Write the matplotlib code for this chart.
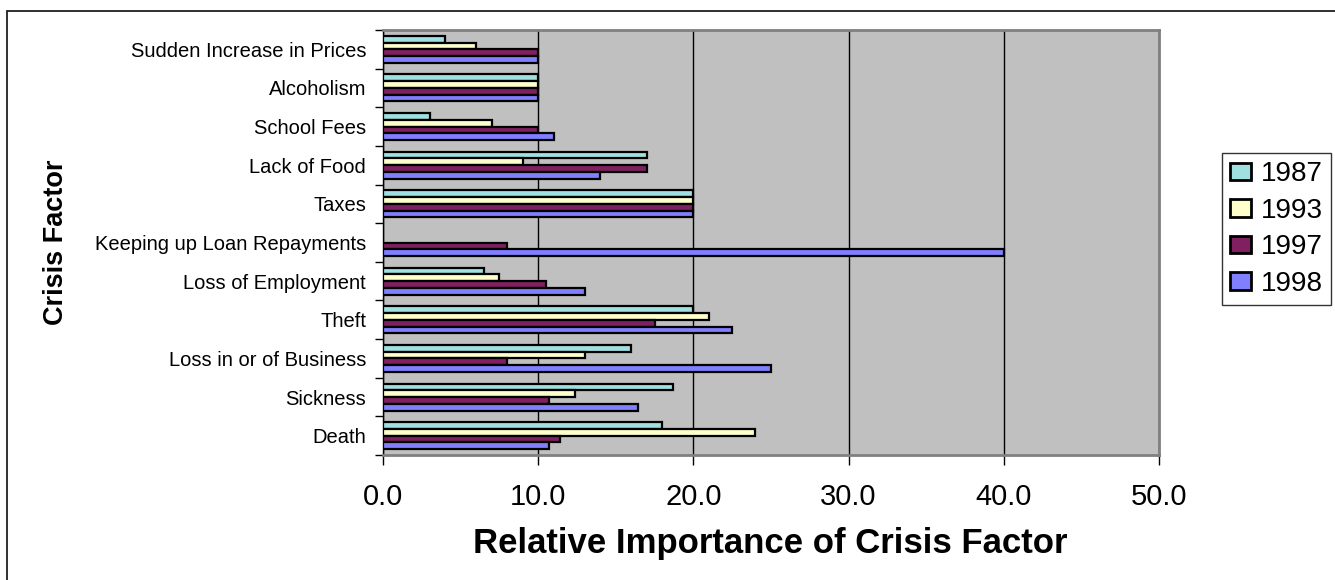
import numpy as np
import matplotlib
matplotlib.use("Agg")
import matplotlib.pyplot as plt
from matplotlib import font_manager
from matplotlib.patches import Patch, Rectangle

# crisis factors, listed bottom to top as they appear on the axis
factors = [
    "Death",
    "Sickness",
    "Loss in or of Business",
    "Theft",
    "Loss of Employment",
    "Keeping up Loan Repayments",
    "Taxes",
    "Lack of Food",
    "School Fees",
    "Alcoholism",
    "Sudden Increase in Prices",
]
years = ["1987", "1993", "1997", "1998"]

vals_1987 = [18.0, 18.7, 16.0, 20.0, 6.5, 0.0, 20.0, 17.0, 3.0, 10.0, 4.0]
vals_1993 = [24.0, 12.4, 13.0, 21.0, 7.5, 0.0, 20.0, 9.0, 7.0, 10.0, 6.0]
vals_1997 = [11.4, 10.7, 8.0, 17.5, 10.5, 8.0, 20.0, 17.0, 10.0, 10.0, 10.0]
vals_1998 = [10.7, 16.4, 25.0, 22.5, 13.0, 40.0, 20.0, 14.0, 11.0, 10.0, 10.0]

x_ticks = [0, 10, 20, 30, 40, 50]

series = [vals_1987, vals_1993, vals_1997, vals_1998]
colors = ["#A0E0E0", "#FFFFCC", "#802060", "#8080FF"]

installed = {f.name for f in font_manager.fontManager.ttflist}
have_narrow = "Liberation Sans Narrow" in installed
title_family = "Liberation Sans Narrow" if have_narrow else "Liberation Sans"
xlab_size = 30 if have_narrow else 25
ylab_size = 23 if have_narrow else 19.5

plt.rcParams["font.family"] = ["Liberation Sans", "DejaVu Sans"]

W, H = 1335, 580
fig = plt.figure(figsize=(W / 100, H / 100), dpi=100)
fig.patch.set_facecolor("white")

# outer chart frame (runs off the right and bottom edges)
fig.add_artist(Rectangle((7 / W, -0.05), 1.1, 1 - 11 / H + 0.05,
                         transform=fig.transFigure, fill=False,
                         edgecolor="#202020", linewidth=1.3))

left, right, top, bottom = 383, 1159, 30, 455
ax = fig.add_axes([left / W, 1 - bottom / H, (right - left) / W, (bottom - top) / H])
ax.set_facecolor("#C0C0C0")

bar_h = 0.175
y = np.arange(len(factors))
for i, (vals, c) in enumerate(zip(series, colors)):
    offs = (1.5 - i) * bar_h
    vals = np.array(vals)
    keep = vals > 0
    ax.barh(y[keep] + offs, vals[keep], height=bar_h, color=c,
            edgecolor="black", linewidth=1.6, zorder=3)

ax.set_xlim(0, 50)
ax.set_ylim(-0.5, len(factors) - 0.5)

ax.set_xticks(x_ticks)
ax.set_xticklabels([f"{v:.1f}" for v in x_ticks], fontsize=21)
ax.tick_params(axis="x", direction="out", length=7, width=1, pad=13, colors="black")

ax.set_yticks(np.arange(len(factors) + 1) - 0.5)
ax.set_yticklabels([])
ax.set_yticks(y, minor=True)
ax.set_yticklabels(factors, minor=True, fontsize=14.5)
ax.tick_params(axis="y", which="major", direction="out", length=6, width=1)
ax.tick_params(axis="y", which="minor", length=0, pad=17 / 1.389)

ax.grid(axis="x", color="black", linewidth=1, zorder=1)
ax.set_axisbelow(True)

for side in ("top", "right", "bottom"):
    ax.spines[side].set_color("#808080")
    ax.spines[side].set_linewidth(2)
ax.spines["left"].set_color("black")
ax.spines["left"].set_linewidth(1)

fig.text(770 / W, 1 - 543 / H, "Relative Importance of Crisis Factor",
         ha="center", va="center", fontsize=xlab_size, fontweight="bold",
         family=title_family)
fig.text(56 / W, 1 - 242 / H, "Crisis Factor", rotation=90,
         ha="center", va="center", fontsize=ylab_size, fontweight="bold",
         family=title_family)

handles = [Patch(facecolor=c, edgecolor="black", linewidth=2) for c in colors]
leg = fig.legend(handles, years, loc="upper left",
                 bbox_to_anchor=(1222 / W, 1 - 153 / H), fontsize=20,
                 frameon=True, fancybox=False, shadow=False,
                 handlelength=0.75, handleheight=0.6, handletextpad=0.35,
                 labelspacing=0.38, borderpad=0.3, borderaxespad=0)
leg.get_frame().set_edgecolor("black")
leg.get_frame().set_linewidth(1)

fig.savefig("out.png", dpi=100, facecolor="white")
